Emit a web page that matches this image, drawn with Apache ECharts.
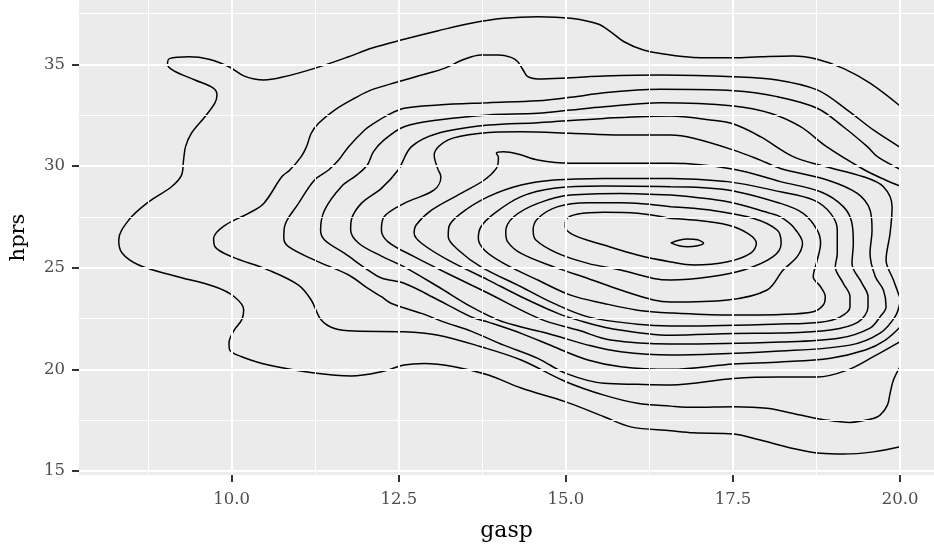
<!DOCTYPE html>
<html>
<head>
<meta charset="utf-8">
<script src="https://cdn.jsdelivr.net/npm/echarts@6/dist/echarts.min.js"></script>
<style>html,body{margin:0;padding:0;background:#fff}#c{width:934px;height:554px}</style>
</head>
<body>
<div id="c"></div>
<script>
// tick values
const xTicks = [10, 12.5, 15, 17.5, 20];
const yTicks = [15, 20, 25, 30, 35];
const xMinor = [8.75, 11.25, 13.75, 16.25, 18.75];
const yMinor = [17.5, 22.5, 27.5, 32.5, 37.5];

// density contour lines (gasp, hprs), outermost to innermost
const level1 = [[20.00,32.95],[19.55,34.07],[19.15,34.80],[18.76,35.25],[18.40,35.41],[17.91,35.37],[17.51,35.32],[16.91,35.34],[16.42,35.53],[16.16,35.70],[15.87,36.11],[15.67,36.60],[15.48,36.98],[15.07,37.26],[14.58,37.34],[14.07,37.26],[13.58,37.02],[13.09,36.65],[12.58,36.23],[12.09,35.79],[11.75,35.37],[11.24,34.80],[10.75,34.36],[10.48,34.23],[10.19,34.42],[9.96,34.88],[9.66,35.25],[9.36,35.37],[9.07,35.28],[9.04,35.00],[9.13,34.69],[9.45,34.23],[9.73,33.82],[9.78,33.49],[9.75,33.10],[9.60,32.42],[9.40,31.62],[9.31,30.95],[9.28,30.29],[9.25,29.55],[9.10,28.98],[8.76,28.24],[8.46,27.34],[8.31,26.36],[8.36,25.72],[8.61,25.13],[9.15,24.59],[9.75,24.06],[10.04,23.57],[10.18,22.92],[10.15,22.43],[10.04,21.94],[9.96,21.29],[9.97,20.95],[10.15,20.62],[10.55,20.21],[11.24,19.82],[11.79,19.67],[12.24,19.88],[12.58,20.21],[12.88,20.29],[13.33,20.13],[13.84,19.72],[14.33,19.08],[15.00,18.40],[15.57,17.67],[15.97,17.17],[16.57,16.98],[16.91,16.88],[17.51,16.82],[17.91,16.52],[18.40,16.11],[18.81,15.87],[19.15,15.83],[19.60,15.94],[20.00,16.19]];
const level2 = [[20.00,30.92],[19.60,31.77],[19.21,32.75],[18.76,33.74],[18.16,34.23],[17.51,34.39],[16.42,34.47],[15.57,34.42],[15.07,34.34],[14.58,34.28],[14.43,34.39],[14.36,34.72],[14.28,35.13],[14.18,35.34],[13.99,35.46],[13.73,35.46],[13.48,35.25],[13.18,34.80],[12.84,34.47],[12.49,34.14],[12.09,33.74],[11.84,33.33],[11.54,32.75],[11.30,32.10],[11.19,31.61],[11.12,30.95],[11.04,30.46],[10.87,29.80],[10.75,29.47],[10.48,28.16],[10.25,27.67],[9.90,27.08],[9.73,26.44],[9.75,26.03],[10.00,25.54],[10.55,24.88],[11.00,24.14],[11.19,23.41],[11.34,22.43],[11.54,22.01],[11.84,21.88],[12.58,21.85],[13.09,21.68],[13.73,21.11],[14.33,20.46],[15.00,19.39],[15.57,18.73],[16.07,18.33],[16.57,18.19],[16.91,18.13],[17.51,18.16],[18.01,18.08],[18.51,17.75],[18.91,17.50],[19.25,17.39],[19.55,17.54],[19.70,17.75],[19.81,18.24],[19.85,18.82],[19.90,19.47],[20.00,20.13]];
const level3 = [[20.00,29.84],[19.66,30.46],[19.51,30.95],[19.15,31.93],[18.76,32.84],[18.16,33.41],[17.51,33.70],[16.42,33.77],[16.07,33.74],[15.57,33.60],[15.07,33.38],[14.58,33.21],[13.84,33.11],[13.09,33.00],[12.58,32.84],[12.34,32.51],[12.09,32.01],[11.99,31.77],[11.75,30.95],[11.60,30.29],[11.45,29.80],[11.24,29.31],[11.00,28.16],[10.79,27.01],[10.78,26.44],[10.85,26.03],[11.24,25.37],[11.75,24.64],[12.04,23.98],[12.24,23.57],[12.39,23.24],[12.84,22.75],[13.18,22.32],[13.58,21.88],[14.07,21.19],[14.58,20.54],[15.00,19.80],[15.57,19.31],[16.07,19.26],[16.57,19.23],[17.51,19.55],[18.21,19.62],[18.76,19.62],[19.21,19.96],[19.60,20.62],[20.00,21.36]];
const level4 = [[20.00,29.01],[19.78,29.31],[19.45,29.84],[18.90,30.95],[18.51,31.93],[18.06,32.59],[17.51,32.95],[16.42,33.11],[15.57,32.91],[15.07,32.75],[14.58,32.59],[13.84,32.51],[13.09,32.26],[12.58,31.93],[12.28,31.28],[12.12,30.69],[12.03,30.05],[11.87,29.55],[11.64,28.98],[11.39,27.83],[11.33,26.85],[11.39,26.36],[11.69,25.70],[12.04,24.88],[12.24,24.49],[12.58,24.23],[13.09,23.41],[13.58,22.58],[13.84,22.32],[14.33,21.77],[14.82,21.11],[15.33,20.46],[15.82,20.13],[16.57,20.00],[17.51,20.26],[18.21,20.36],[18.96,20.55],[19.48,20.95],[19.78,21.44],[20.00,22.08]];
const level5 = [[20.00,23.50],[19.90,24.39],[19.79,25.37],[19.85,26.69],[19.88,28.00],[19.75,28.98],[19.45,29.47],[18.85,30.00],[18.40,30.46],[17.91,31.44],[17.51,32.06],[17.16,32.26],[16.57,32.46],[15.57,32.34],[14.58,32.13],[13.84,32.01],[13.09,31.61],[12.69,30.95],[12.49,29.80],[12.24,28.90],[11.94,28.16],[11.79,27.34],[11.78,26.85],[11.90,26.20],[12.24,25.57],[12.58,25.04],[13.09,24.06],[13.58,23.08],[13.99,22.42],[14.28,22.13],[14.82,21.68],[15.33,21.19],[15.82,20.86],[16.57,20.70],[18.21,20.90],[19.25,21.19],[19.70,21.78],[19.93,22.62],[20.00,23.31]];
const level6 = [[13.09,29.80],[13.03,30.54],[13.24,31.28],[13.73,31.61],[14.33,31.68],[15.07,31.61],[15.82,31.52],[16.57,31.52],[16.91,31.36],[17.51,30.78],[17.91,30.29],[18.21,29.88],[18.91,29.31],[19.36,28.65],[19.55,27.83],[19.58,26.85],[19.55,25.70],[19.63,24.55],[19.75,23.90],[19.79,23.08],[19.70,22.58],[19.55,22.03],[19.10,21.54],[18.21,21.34],[16.57,21.24],[15.67,21.44],[15.18,21.93],[14.70,22.37],[14.33,22.91],[13.84,23.74],[13.33,24.55],[12.73,25.54],[12.34,26.27],[12.24,26.85],[12.28,27.50],[12.58,28.16],[13.03,28.82],[13.13,29.47],[13.09,29.80]];
const level7 = [[13.99,30.46],[13.96,30.62],[14.07,30.70],[14.28,30.59],[14.58,30.29],[15.07,30.13],[15.82,30.13],[16.57,30.13],[17.51,29.84],[18.21,29.23],[18.81,28.73],[19.15,28.00],[19.28,27.18],[19.30,26.20],[19.28,25.21],[19.43,24.23],[19.52,23.57],[19.52,23.08],[19.37,22.32],[18.96,21.93],[18.21,21.78],[17.51,21.76],[16.57,21.68],[15.67,22.01],[15.18,22.42],[14.88,22.75],[14.33,23.57],[13.84,24.39],[13.24,25.37],[12.84,26.20],[12.73,26.69],[12.76,27.10],[12.99,27.83],[13.43,28.65],[13.78,29.31],[13.96,29.88],[13.99,30.29],[13.99,30.46]];
const level8 = [[16.57,29.39],[15.57,29.39],[14.82,29.31],[14.33,29.06],[13.84,28.49],[13.43,27.67],[13.25,27.01],[13.24,26.52],[13.39,25.87],[13.73,25.04],[14.33,24.06],[14.82,23.24],[15.33,22.58],[16.07,22.22],[16.57,22.13],[18.21,22.23],[18.81,22.32],[19.10,22.57],[19.25,23.06],[19.25,23.57],[19.15,24.23],[19.03,25.04],[19.06,25.70],[19.06,26.85],[18.96,27.67],[18.70,28.33],[18.21,28.73],[17.42,29.23],[16.57,29.39]];
const level9 = [[16.57,28.98],[15.57,29.01],[14.82,28.90],[14.33,28.49],[13.93,27.67],[13.73,27.01],[13.69,26.44],[13.78,25.87],[14.07,25.21],[14.58,24.39],[15.07,23.65],[15.57,23.24],[16.07,22.91],[16.57,22.77],[17.42,22.67],[18.21,22.70],[18.70,22.83],[18.85,23.16],[18.88,23.57],[18.81,24.06],[18.70,24.55],[18.76,25.37],[18.81,26.20],[18.76,26.85],[18.55,27.67],[18.21,28.16],[17.42,28.82],[16.57,28.98]];
const level10 = [[16.57,28.57],[15.82,28.65],[15.07,28.57],[14.58,28.16],[14.22,27.50],[14.10,26.77],[14.13,26.27],[14.33,25.70],[14.82,25.04],[15.33,24.47],[15.82,23.90],[16.31,23.41],[16.57,23.31],[17.42,23.41],[18.01,23.90],[18.25,24.88],[18.46,25.54],[18.54,26.20],[18.40,27.01],[18.21,27.50],[18.06,27.67],[17.42,28.24],[16.57,28.57]];
const level11 = [[16.57,28.00],[15.82,28.19],[15.33,28.19],[14.88,28.00],[14.58,27.42],[14.51,26.85],[14.55,26.36],[14.88,25.70],[15.33,25.21],[15.82,24.88],[16.31,24.47],[16.57,24.39],[17.16,24.55],[17.66,24.88],[18.10,25.54],[18.22,26.20],[18.16,26.85],[17.81,27.42],[17.16,27.83],[16.57,28.00]];
const level12 = [[16.57,27.42],[16.07,27.67],[15.57,27.72],[15.18,27.64],[15.00,27.34],[14.99,27.01],[15.12,26.60],[15.57,26.11],[16.07,25.62],[16.57,25.28],[16.91,25.13],[17.42,25.29],[17.76,25.70],[17.85,26.20],[17.72,26.69],[17.42,27.10],[16.91,27.34],[16.57,27.42]];
const level13 = [[16.57,26.22],[16.69,26.35],[16.82,26.41],[16.97,26.37],[17.06,26.20],[16.97,26.08],[16.82,26.03],[16.69,26.08],[16.57,26.22]];

const contours = [level1, level2, level3, level4, level5, level6, level7, level8, level9, level10, level11, level12, level13];

const FONT = '"DejaVu Serif", serif';
const chart = echarts.init(document.getElementById('c'), null, {renderer: 'canvas'});

const gridLines = [];
xMinor.forEach(v => gridLines.push({xAxis: v, lineStyle: {color: '#fff', width: 1, type: 'solid'}}));
yMinor.forEach(v => gridLines.push({yAxis: v, lineStyle: {color: '#fff', width: 1, type: 'solid'}}));
xTicks.forEach(v => gridLines.push({xAxis: v, lineStyle: {color: '#fff', width: 2, type: 'solid'}}));
yTicks.forEach(v => gridLines.push({yAxis: v, lineStyle: {color: '#fff', width: 2, type: 'solid'}}));

const series = [{
  type: 'line', data: [], silent: true, z: 1,
  markLine: {silent: true, symbol: ['none', 'none'], label: {show: false}, animation: false, data: gridLines}
}];
contours.forEach(c => series.push({
  type: 'line', data: c, symbol: 'none', showSymbol: false, smooth: 0.35,
  lineStyle: {color: '#000', width: 1.5}, silent: true, z: 3, animation: false
}));

chart.setOption({
  animation: false,
  grid: {left: 77, right: 0, top: 0, bottom: 79, show: true, backgroundColor: '#EBEBEB', borderWidth: 0, containLabel: false},
  xAxis: {
    type: 'value', min: 7.716, max: 20.507,
    splitLine: {show: false}, axisLine: {show: false},
    axisTick: {show: true, customValues: xTicks, length: 7, lineStyle: {color: '#333', width: 2}},
    axisLabel: {customValues: xTicks, formatter: v => v.toFixed(1), color: '#4D4D4D', fontFamily: FONT, fontSize: 16.5, margin: 16},
    name: 'gasp', nameLocation: 'middle', nameGap: 45,
    nameTextStyle: {fontFamily: FONT, fontSize: 22, color: '#000'}
  },
  yAxis: {
    type: 'value', min: 14.803, max: 38.162,
    splitLine: {show: false}, axisLine: {show: false},
    axisTick: {show: true, customValues: yTicks, length: 7, lineStyle: {color: '#333', width: 2}},
    axisLabel: {customValues: yTicks, formatter: v => String(v), color: '#4D4D4D', fontFamily: FONT, fontSize: 16.5, margin: 14},
    name: 'hprs', nameLocation: 'middle', nameGap: 50,
    nameTextStyle: {fontFamily: FONT, fontSize: 21, color: '#000'}
  },
  series: series
});
</script>
</body>
</html>
